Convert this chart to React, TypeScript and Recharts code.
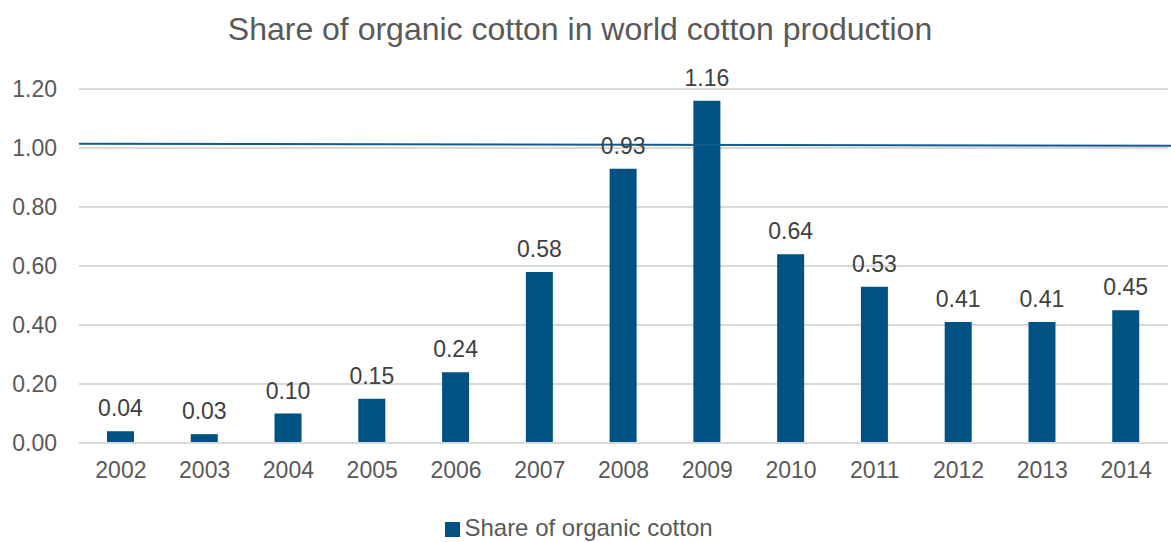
import React from "react";
import {
  BarChart,
  Bar,
  XAxis,
  YAxis,
  CartesianGrid,
  Legend,
  LabelList,
  ReferenceLine,
} from "recharts";

const years = ["2002", "2003", "2004", "2005", "2006", "2007", "2008", "2009", "2010", "2011", "2012", "2013", "2014"];
const organicShare = [0.04, 0.03, 0.1, 0.15, 0.24, 0.58, 0.93, 1.16, 0.64, 0.53, 0.41, 0.41, 0.45];
const yTicks = [0, 0.2, 0.4, 0.6, 0.8, 1.0, 1.2];
const markerLevel = 1.011;

const data = years.map((year, i) => ({ year, share: organicShare[i] }));

const FONT = "'Liberation Sans', Arial, sans-serif";
const TEXT = "#595959";
const BLUE = "#005282";

// slight tilt on the marker line, drawn a pixel higher on the left than on the right
const TiltedLine = (props: any) => {
  const { x1, y1, x2, y2 } = props;
  return <line x1={x1} y1={y1 - 1} x2={x2 + 3} y2={y2 + 1} stroke="#125C8C" strokeWidth={2} />;
};

export default function App() {
  return (
    <div style={{ position: "absolute", left: 0, top: 0, width: 1171, height: 542, fontFamily: FONT, background: "#fff" }}>
      <div
        style={{
          position: "absolute",
          top: 11,
          left: 0,
          width: 1160,
          textAlign: "center",
          fontSize: 32,
          color: TEXT,
          fontFamily: FONT,
        }}
      >
        Share of organic cotton in world cotton production
      </div>
      <BarChart
        width={1171}
        height={542}
        data={data}
        margin={{ top: 89, right: 3, left: 0, bottom: 0 }}
        barCategoryGap={0}
      >
        <CartesianGrid vertical={false} stroke="#d9d9d9" strokeWidth={2} />
        <XAxis
          dataKey="year"
          axisLine={{ stroke: "#d9d9d9", strokeWidth: 2 }}
          tickLine={false}
          tickSize={0}
          tickMargin={19}
          height={71}
          tick={{ fill: TEXT, fontSize: 23, fontFamily: FONT }}
          interval={0}
        />
        <YAxis
          domain={[0, 1.2]}
          ticks={yTicks}
          axisLine={false}
          tickLine={false}
          tickSize={0}
          tickMargin={22}
          width={79}
          tickFormatter={(v: number) => v.toFixed(2)}
          tick={{ fill: TEXT, fontSize: 23, fontFamily: FONT }}
        />
        <Bar dataKey="share" name="Share of organic cotton" fill={BLUE} barSize={27} isAnimationActive={false}>
          <LabelList
            dataKey="share"
            position="top"
            offset={15}
            formatter={(v: any) => Number(v).toFixed(2)}
            style={{ fill: "#404040", fontSize: 23, fontFamily: FONT }}
          />
        </Bar>
        <ReferenceLine y={markerLevel} shape={TiltedLine} />
        <Legend
          verticalAlign="bottom"
          iconType="square"
          iconSize={15}
          wrapperStyle={{ fontSize: 24, fontFamily: FONT }}
          formatter={(value: string) => <span style={{ color: TEXT }}>{value}</span>}
        />
      </BarChart>
    </div>
  );
}
